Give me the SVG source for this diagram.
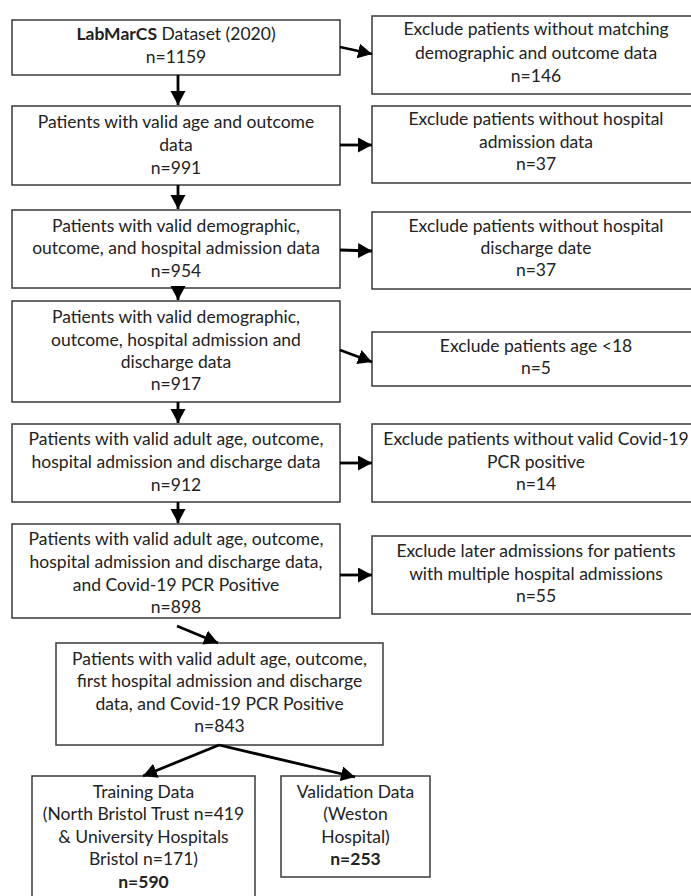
<svg xmlns="http://www.w3.org/2000/svg" width="691" height="896" viewBox="0 0 691 896">
<style>
.box{fill:#fff;stroke:#3a3a3a;stroke-width:1.5}
text{font-family:Lato,"Liberation Sans",sans-serif;font-size:17.5px;fill:#222;text-anchor:middle}
.b{font-weight:bold}
.c{stroke:#000;stroke-width:2.8;fill:none;marker-end:url(#ah)}
</style>
<defs>
<marker id="ah" markerUnits="userSpaceOnUse" markerWidth="15" markerHeight="16" refX="14" refY="7.5" orient="auto">
<path d="M0,0 L14,7.5 L0,15 z" fill="#000"/>
</marker>
</defs>
<rect width="691" height="896" fill="#fff"/>
<g id="n1"><rect class="box" x="12" y="20" width="328" height="55"/>
<text x="176" y="40"><tspan class="b">LabMarCS</tspan> Dataset (2020)</text>
<text x="176" y="63">n=1159</text></g>
<g id="e1"><rect class="box" x="372" y="16" width="330" height="78"/>
<text x="536" y="35">Exclude patients without matching</text>
<text x="536" y="59">demographic and outcome data</text>
<text x="536" y="82">n=146</text></g>
<g id="n2"><rect class="box" x="12" y="106" width="328" height="79"/>
<text x="176" y="128">Patients with valid age and outcome</text>
<text x="176" y="151">data</text>
<text x="176" y="174">n=991</text></g>
<g id="e2"><rect class="box" x="372" y="106" width="330" height="77"/>
<text x="536" y="125">Exclude patients without hospital</text>
<text x="536" y="148">admission data</text>
<text x="536" y="170">n=37</text></g>
<g id="n3"><rect class="box" x="12" y="210" width="328" height="78"/>
<text x="176" y="232">Patients with valid demographic,</text>
<text x="176" y="254">outcome, and hospital admission data</text>
<text x="176" y="277">n=954</text></g>
<g id="e3"><rect class="box" x="372" y="212" width="330" height="77"/>
<text x="536" y="232">Exclude patients without hospital</text>
<text x="536" y="254">discharge date</text>
<text x="536" y="276">n=37</text></g>
<g id="n4"><rect class="box" x="12" y="301" width="328" height="101"/>
<text x="176" y="323">Patients with valid demographic,</text>
<text x="176" y="346">outcome, hospital admission and</text>
<text x="176" y="368">discharge data</text>
<text x="176" y="390">n=917</text></g>
<g id="e4"><rect class="box" x="372" y="332" width="330" height="54"/>
<text x="536" y="352">Exclude patients age &lt;18</text>
<text x="536" y="374">n=5</text></g>
<g id="n5"><rect class="box" x="12" y="424" width="328" height="78"/>
<text x="176" y="445">Patients with valid adult age, outcome,</text>
<text x="176" y="468">hospital admission and discharge data</text>
<text x="176" y="491">n=912</text></g>
<g id="e5"><rect class="box" x="372" y="424" width="330" height="78"/>
<text x="536" y="445">Exclude patients without valid Covid-19</text>
<text x="536" y="468">PCR positive</text>
<text x="536" y="490">n=14</text></g>
<g id="n6"><rect class="box" x="12" y="524" width="328" height="94"/>
<text x="176" y="545">Patients with valid adult age, outcome,</text>
<text x="176" y="568">hospital admission and discharge data,</text>
<text x="176" y="591">and Covid-19 PCR Positive</text>
<text x="176" y="613">n=898</text></g>
<g id="e6"><rect class="box" x="372" y="536" width="330" height="78"/>
<text x="536" y="557">Exclude later admissions for patients</text>
<text x="536" y="580">with multiple hospital admissions</text>
<text x="536" y="602">n=55</text></g>
<g id="n7"><rect class="box" x="56" y="643" width="327" height="102"/>
<text x="219.5" y="665">Patients with valid adult age, outcome,</text>
<text x="219.5" y="687">first hospital admission and discharge</text>
<text x="219.5" y="710">data, and Covid-19 PCR Positive</text>
<text x="219.5" y="732">n=843</text></g>
<g id="n8"><rect class="box" x="32" y="776" width="223" height="130"/>
<text x="143.5" y="798">Training Data</text>
<text x="143.5" y="820">(North Bristol Trust n=419</text>
<text x="143.5" y="843">&amp; University Hospitals</text>
<text x="143.5" y="865">Bristol n=171)</text>
<text class="b" x="143.5" y="888">n=590</text></g>
<g id="n9"><rect class="box" x="281" y="776" width="149" height="101"/>
<text x="355.5" y="798">Validation Data</text>
<text x="355.5" y="820">(Weston</text>
<text x="355.5" y="843">Hospital)</text>
<text class="b" x="355.5" y="865">n=253</text></g>
<g id="connectors">
<line class="c" x1="340" y1="47" x2="372" y2="54"/>
<line class="c" x1="178" y1="75" x2="178" y2="105"/>
<line class="c" x1="340" y1="145" x2="372" y2="145"/>
<line class="c" x1="178" y1="185" x2="178" y2="209"/>
<line class="c" x1="340" y1="250" x2="372" y2="251"/>
<line class="c" x1="178" y1="288" x2="178" y2="300"/>
<line class="c" x1="340" y1="350" x2="372" y2="362"/>
<line class="c" x1="178" y1="402" x2="178" y2="423"/>
<line class="c" x1="340" y1="463" x2="372" y2="463"/>
<line class="c" x1="178" y1="502" x2="178" y2="523"/>
<line class="c" x1="340" y1="575" x2="372" y2="575"/>
<line class="c" x1="177" y1="626" x2="218" y2="643"/>
<line class="c" x1="219" y1="745" x2="143" y2="776"/>
<line class="c" x1="219" y1="745" x2="355" y2="777"/>
</g>
</svg>
